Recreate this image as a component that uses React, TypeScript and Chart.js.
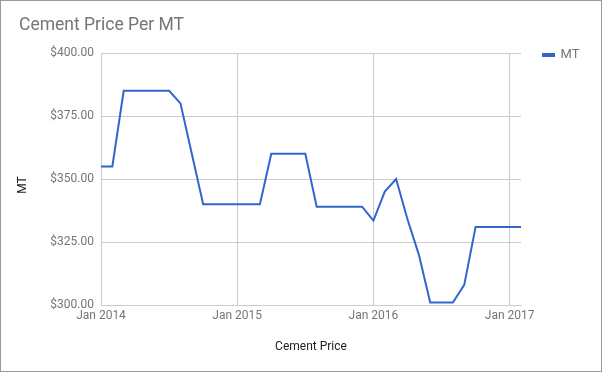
import { useEffect, useRef } from 'react';
import { Chart, registerables } from 'chart.js';

Chart.register(...registerables);

const FONT = 'Roboto, Arial, sans-serif';

// One entry per month, Jan 2014 .. Feb 2017
const months = [
  '2014-01', '2014-02', '2014-03', '2014-04', '2014-05', '2014-06', '2014-07', '2014-08', '2014-09', '2014-10', '2014-11', '2014-12',
  '2015-01', '2015-02', '2015-03', '2015-04', '2015-05', '2015-06', '2015-07', '2015-08', '2015-09', '2015-10', '2015-11', '2015-12',
  '2016-01', '2016-02', '2016-03', '2016-04', '2016-05', '2016-06', '2016-07', '2016-08', '2016-09', '2016-10', '2016-11', '2016-12',
  '2017-01', '2017-02',
];

const prices = [
  355, 355, 385, 385, 385, 385, 385, 380, 360, 340, 340, 340,
  340, 340, 340, 360, 360, 360, 360, 339, 339, 339, 339, 339,
  333.5, 345, 350, 334, 320, 301, 301, 301, 308, 331, 331, 331,
  331, 331,
];

const xTickValues = [0, 12, 24, 36];
const xTickLabels = ['Jan 2014', 'Jan 2015', 'Jan 2016', 'Jan 2017'];

const yMin = 300;
const yMax = 400;
const yStep = 25;

export default function App() {
  const ref = useRef<HTMLCanvasElement>(null);

  useEffect(() => {
    document.body.style.margin = '0';
    const canvas = ref.current;
    if (!canvas) return;
    const chart = new Chart(canvas, {
      type: 'line',
      data: {
        datasets: [
          {
            label: 'MT',
            data: months.map((_, i) => ({ x: i, y: prices[i] })),
            borderColor: '#3366cc',
            backgroundColor: '#3366cc',
            borderWidth: 2,
            pointRadius: 0,
            tension: 0,
          },
        ],
      },
      options: {
        responsive: false,
        animation: false,
        devicePixelRatio: 1,
        layout: { padding: { left: 0, top: 0, right: 80, bottom: 0 } },
        plugins: {
          title: {
            display: true,
            text: 'Cement Price Per MT',
            align: 'start',
            color: '#757575',
            font: { family: FONT, size: 17.5, weight: 'normal' },
            padding: { top: 14.5, bottom: 16.5 },
          },
          legend: {
            position: 'chartArea',
            align: 'start',
            labels: {
              boxWidth: 11,
              boxHeight: 2,
              padding: 10,
              color: '#757575',
              font: { family: FONT, size: 13 },
            },
          },
          tooltip: { enabled: false },
        },
        scales: {
          x: {
            type: 'linear',
            min: 0,
            max: months.length - 1,
            afterFit: (s: any) => { s.height = 66; },
            afterBuildTicks: (s: any) => { s.ticks = xTickValues.map((v) => ({ value: v })); },
            ticks: {
              callback: (v: any) => {
                const i = xTickValues.indexOf(Number(v));
                return i >= 0 ? xTickLabels[i] : '';
              },
              color: '#757575',
              font: { family: FONT, size: 12 },
              padding: 4,
              maxRotation: 0,
              autoSkip: false,
            },
            grid: { color: '#cccccc', drawTicks: false },
            border: { color: '#cccccc' },
            title: {
              display: true,
              text: 'Cement Price',
              color: '#222222',
              font: { family: FONT, size: 12 },
              padding: { top: 0, bottom: 17 },
            },
          },
          y: {
            min: yMin,
            max: yMax,
            afterFit: (s: any) => { s.width = 100; },
            ticks: {
              stepSize: yStep,
              callback: (v: any) => '$' + Number(v).toFixed(2),
              color: '#757575',
              font: { family: FONT, size: 12 },
              padding: 7,
            },
            grid: { color: '#cccccc', drawTicks: false },
            border: { color: '#cccccc' },
            title: {
              display: true,
              text: 'MT    ',
              color: '#222222',
              font: { family: FONT, size: 12 },
              padding: { top: 15, bottom: 0 },
            },
          },
        },
      },
      plugins: [
        {
          id: 'placeBlocks',
          afterLayout(c: any) {
            const t = c.titleBlock;
            if (t) t.left = 18;
            const l = c.legend;
            if (l) {
              const w = l.width;
              const h = l.height;
              l.left = 532;
              l.top = 37.5;
              l.right = l.left + w;
              l.bottom = l.top + h;
            }
          },
        },
      ],
    } as any);
    return () => chart.destroy();
  }, []);

  return (
    <div style={{ width: 600, height: 370, border: '1px solid #999999' }}>
      <canvas ref={ref} width={600} height={370} style={{ display: 'block' }} />
    </div>
  );
}
